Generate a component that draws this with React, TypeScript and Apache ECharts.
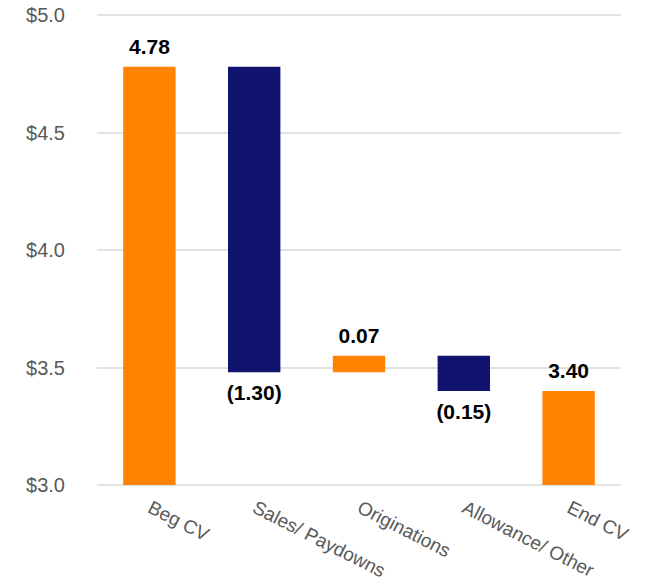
import React, { useEffect, useRef } from "react";
import * as echarts from "echarts";

// Carrying value bridge ($ billions)
const categories = ["Beg CV", "Sales/ Paydowns", "Originations", "Allowance/ Other", "End CV"];
const beginValue = 4.78;
const changes = [-1.30, 0.07, -0.15];
const endValue = 3.40;
const yTicks = [3.0, 3.5, 4.0, 4.5, 5.0];

const ORANGE = "#FF8300";
const NAVY = "#10146E";
const FONT = "Liberation Sans, Arial, sans-serif";

export default function App() {
  const ref = useRef<HTMLDivElement>(null);

  useEffect(() => {
    if (!ref.current) return;
    const chart = echarts.init(ref.current, undefined, { renderer: "svg" });

    // floating bar extents: totals start at 0 (clipped to axis min), changes float
    const lows: number[] = [];
    const spans: number[] = [];
    const colors: string[] = [];
    const labels: string[] = [];
    const positions: string[] = [];

    lows.push(0);
    spans.push(beginValue);
    colors.push(ORANGE);
    labels.push(beginValue.toFixed(2));
    positions.push("top");

    let level = beginValue;
    changes.forEach((c) => {
      const next = level + c;
      lows.push(Math.min(level, next));
      spans.push(Math.abs(c));
      colors.push(c >= 0 ? ORANGE : NAVY);
      labels.push(c >= 0 ? c.toFixed(2) : `(${Math.abs(c).toFixed(2)})`);
      positions.push(c >= 0 ? "top" : "bottom");
      level = next;
    });

    lows.push(0);
    spans.push(endValue);
    colors.push(ORANGE);
    labels.push(endValue.toFixed(2));
    positions.push("top");

    chart.setOption({
      animation: false,
      grid: {
        left: 97,
        right: 32,
        top: 15,
        bottom: 97,
        containLabel: false,
        outerBoundsMode: "none",
      },
      xAxis: {
        type: "category",
        data: categories,
        axisLine: { show: false },
        axisTick: { show: false },
        axisLabel: {
          rotate: -27,
          margin: 21,
          color: "#595959",
          fontSize: 19,
          fontFamily: FONT,
          interval: 0,
        },
      },
      yAxis: {
        type: "value",
        min: yTicks[0],
        max: yTicks[yTicks.length - 1],
        interval: 0.5,
        axisLine: { show: false },
        axisTick: { show: false },
        splitLine: { lineStyle: { color: "#D9D9D9", width: 1.5 } },
        axisLabel: {
          margin: 32,
          color: "#595959",
          fontSize: 20,
          fontFamily: FONT,
          formatter: (v: number) => `$${v.toFixed(1)}`,
        },
      },
      series: [
        {
          type: "bar",
          stack: "bridge",
          silent: true,
          clip: true,
          itemStyle: { color: "transparent" },
          data: lows,
          barWidth: "50%",
        },
        {
          type: "bar",
          stack: "bridge",
          clip: true,
          barWidth: "50%",
          data: spans.map((s, i) => ({
            value: s,
            itemStyle: { color: colors[i] },
            label: {
              show: true,
              position: positions[i],
              distance: 10,
              formatter: () => labels[i],
              color: "#000000",
              fontWeight: "bold",
              fontSize: 21,
              fontFamily: FONT,
            },
          })),
        },
      ],
    });

    return () => chart.dispose();
  }, []);

  return (
    <div
      ref={ref}
      style={{ position: "absolute", left: 0, top: 0, width: 653, height: 582 }}
    />
  );
}
